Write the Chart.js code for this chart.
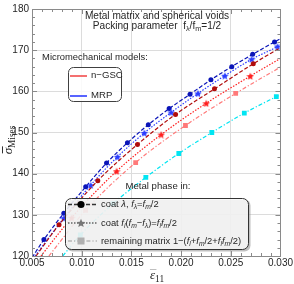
<!DOCTYPE html>
<html>
<head>
<meta charset="UTF-8">
<title>Metal matrix and spherical voids</title>
<script src="https://cdn.jsdelivr.net/npm/chart.js"></script>
<style>
  body { margin: 0; padding: 0; background: #fff; }
  #wrap { width: 294px; height: 284px; }
</style>
</head>
<body>
<div id="wrap"><canvas id="chart" width="294" height="284"></canvas></div>
<script>
// values; first and last entry of each curve are its ends (no marker there)
const xTicks = [0.005, 0.010, 0.015, 0.020, 0.025, 0.030];
const yTicks = [120, 130, 140, 150, 160, 170, 180];

// MRP, metal in coat lambda (circles)
const mrpCoatStrain = [0.0050, 0.0062, 0.0082, 0.0104, 0.0125, 0.0146, 0.0167, 0.0188, 0.0209, 0.0230, 0.0251, 0.0272, 0.0294, 0.0300];
const mrpCoatStress = [119.6, 124.0, 130.4, 136.8, 142.6, 147.5, 151.9, 155.8, 159.3, 162.8, 166.0, 169.0, 172.0, 172.8];
// MRP, metal in coat f_l(f_m - f_lambda) (stars)
const mrpShellStrain = [0.0053, 0.0082, 0.0109, 0.0136, 0.0163, 0.0190, 0.0217, 0.0244, 0.0271, 0.0297, 0.0300];
const mrpShellStress = [120.0, 129.2, 137.2, 144.1, 149.9, 154.9, 159.5, 163.8, 167.8, 170.9, 171.4];
// MRP, metal in remaining matrix (squares)
const mrpRestStrain = [0.0081, 0.00986, 0.01315, 0.01645, 0.01977, 0.02309, 0.02636, 0.02958, 0.0300];
const mrpRestStress = [120.0, 125.1, 132.7, 139.1, 144.9, 150.0, 154.7, 158.7, 159.2];

// n-GSC, metal in coat lambda (circles)
const gscCoatStrain = [0.0054, 0.00772, 0.01162, 0.01561, 0.01944, 0.02336, 0.02726, 0.0300];
const gscCoatStress = [120.0, 127.6, 138.3, 147.1, 154.4, 160.6, 166.7, 170.6];
// n-GSC, metal in coat f_l(f_m - f_lambda) (stars)
const gscShellStrain = [0.0059, 0.00899, 0.01351, 0.0180, 0.02253, 0.02696, 0.0300];
const gscShellStress = [120.0, 129.3, 140.6, 149.5, 157.1, 163.7, 168.0];
// n-GSC, metal in remaining matrix (squares)
const gscRestStrain = [0.0067, 0.01039, 0.01543, 0.02044, 0.02549, 0.0300];
const gscRestStress = [120.0, 131.1, 142.7, 151.7, 159.5, 165.9];

function pts(xs, ys) {
    return xs.map((x, i) => ({ x: x, y: ys[i] }));
}

// filled five point star used as a point style
function starImage(color, size) {
    const c = document.createElement('canvas');
    c.width = size; c.height = size;
    const g = c.getContext('2d');
    drawStar(g, size / 2, size / 2 + 0.4, size / 2, color);
    return c;
}
function drawStar(g, cx, cy, r, color) {
    g.beginPath();
    for (let k = 0; k < 10; k++) {
        const rr = k % 2 === 0 ? r : r * 0.45;
        const a = -Math.PI / 2 + k * Math.PI / 5;
        g.lineTo(cx + rr * Math.cos(a), cy + rr * Math.sin(a));
    }
    g.closePath();
    g.fillStyle = color;
    g.fill();
}

const DASH = [4, 2];
const DOT = [1.5, 1.5];
const DASHDOT = [4, 2, 1.2, 2];

function curve(xs, ys, color, dash, style, radius) {
    const n = xs.length;
    return {
        data: pts(xs, ys),
        borderColor: color,
        backgroundColor: color,
        borderWidth: 1.2,
        borderDash: dash,
        pointStyle: style,
        pointRadius: ctx => (ctx.dataIndex === 0 || ctx.dataIndex === n - 1) ? 0 : radius,
        pointBorderWidth: 0,
        pointHoverRadius: 0,
        cubicInterpolationMode: 'monotone',
        fill: false
    };
}

const SANS = '"Liberation Sans", Arial, sans-serif';
const SERIF = '"Liberation Serif", "Times New Roman", serif';

// text made of parts: [text, flags] with flags 'i' italic, 's' subscript
function rich(ctx, parts, x, y, size, align, family) {
    family = family || SANS;
    const fontOf = f => (f.includes('i') ? 'italic ' : '') + (f.includes('s') ? size * 0.72 : size) + 'px ' + family;
    let w = 0;
    parts.forEach(p => { ctx.font = fontOf(p[1] || ''); w += ctx.measureText(p[0]).width; });
    let cx = align === 'center' ? x - w / 2 : x;
    ctx.textAlign = 'left';
    ctx.textBaseline = 'middle';
    parts.forEach(p => {
        const f = p[1] || '';
        ctx.font = fontOf(f);
        ctx.fillText(p[0], cx, f.includes('s') ? y + size * 0.28 : y);
        cx += ctx.measureText(p[0]).width;
    });
    return w;
}

function roundBox(ctx, x, y, w, h, r) {
    ctx.beginPath();
    ctx.moveTo(x + r, y);
    ctx.arcTo(x + w, y, x + w, y + h, r);
    ctx.arcTo(x + w, y + h, x, y + h, r);
    ctx.arcTo(x, y + h, x, y, r);
    ctx.arcTo(x, y, x + w, y, r);
    ctx.closePath();
}

const framePlugin = {
    id: 'frame',
    afterDatasetsDraw(chart) {
        const ctx = chart.ctx;
        const a = chart.chartArea;
        const xs = chart.scales.x, ys = chart.scales.y;
        ctx.save();
        // inward ticks on all four sides
        ctx.strokeStyle = '#8a8a8a';
        ctx.lineWidth = 1;
        ctx.beginPath();
        for (let v = 120; v <= 180.001; v += 2) {
            const p = Math.round(ys.getPixelForValue(v)) + 0.5;
            const len = (Math.round(v) % 10 === 0) ? 5 : 3;
            ctx.moveTo(a.left, p); ctx.lineTo(a.left + len, p);
            ctx.moveTo(a.right, p); ctx.lineTo(a.right - len, p);
        }
        for (let i = 0; i <= 25; i++) {
            const v = 0.005 + i * 0.001;
            const p = Math.round(xs.getPixelForValue(v)) + 0.5;
            const len = (i % 5 === 0) ? 5 : 3;
            ctx.moveTo(p, a.bottom); ctx.lineTo(p, a.bottom - len);
            ctx.moveTo(p, a.top); ctx.lineTo(p, a.top + len);
        }
        ctx.stroke();
        ctx.strokeRect(Math.round(a.left) + 0.5, Math.round(a.top) + 0.5,
            Math.round(a.right - a.left), Math.round(a.bottom - a.top));

        ctx.fillStyle = '#262626';
        // titles
        rich(ctx, [['Metal matrix and spherical voids']], 157, 16, 10.1, 'center');
        rich(ctx, [['Packing parameter  f'], ['\u03bb', 's'], ['/f'], ['m', 's'], ['=1/2']], 157, 26.5, 10.1, 'center');
        rich(ctx, [['Micromechanical models:']], 95, 57, 9.4, 'center');
        rich(ctx, [['Metal phase in:']], 158, 186, 9.6, 'center');

        // models legend
        roundBox(ctx, 68.5, 67.5, 53, 34, 5);
        ctx.fillStyle = 'rgba(255,255,255,0.85)';
        ctx.fill();
        ctx.strokeStyle = '#404040';
        ctx.stroke();
        ctx.lineWidth = 1.5;
        ctx.strokeStyle = '#f04040';
        ctx.beginPath(); ctx.moveTo(70, 76); ctx.lineTo(87, 76); ctx.stroke();
        ctx.strokeStyle = '#2030ff';
        ctx.beginPath(); ctx.moveTo(70, 96); ctx.lineTo(87, 96); ctx.stroke();
        ctx.fillStyle = '#262626';
        rich(ctx, [['n\u2212GSC']], 91, 75.5, 9.6, 'left');
        rich(ctx, [['MRP']], 91, 95, 9.6, 'left');

        // metal phase legend
        ctx.fillStyle = 'rgba(150,150,150,0.6)';
        roundBox(ctx, 66.5, 199.5, 184, 52, 6);
        ctx.fill();
        roundBox(ctx, 65.5, 198.5, 183, 51, 6);
        ctx.fillStyle = 'rgba(255,255,255,0.78)';
        ctx.fill();
        ctx.lineWidth = 1;
        ctx.strokeStyle = '#333';
        ctx.stroke();

        const rows = [204.5, 223, 241];
        ctx.lineWidth = 1.4;
        ctx.strokeStyle = '#333';
        ctx.setLineDash(DASH);
        ctx.beginPath(); ctx.moveTo(68, rows[0]); ctx.lineTo(97, rows[0]); ctx.stroke();
        ctx.strokeStyle = '#666';
        ctx.setLineDash(DOT);
        ctx.beginPath(); ctx.moveTo(68, rows[1]); ctx.lineTo(97, rows[1]); ctx.stroke();
        ctx.strokeStyle = '#b8b8b8';
        ctx.setLineDash(DASHDOT);
        ctx.beginPath(); ctx.moveTo(68, rows[2]); ctx.lineTo(97, rows[2]); ctx.stroke();
        ctx.setLineDash([]);
        ctx.fillStyle = '#000';
        ctx.beginPath(); ctx.arc(81, rows[0], 3.6, 0, Math.PI * 2); ctx.fill();
        drawStar(ctx, 81, rows[1] + 0.4, 4.6, '#777');
        ctx.fillStyle = '#b0b0b0';
        ctx.fillRect(77.5, rows[2] - 3.5, 7, 7);

        ctx.fillStyle = '#262626';
        rich(ctx, [['coat '], ['\u03bb', 'i'], [', '], ['f', 'i'], ['\u03bb', 'is'], ['='], ['f', 'i'], ['m', 'is'], ['/2']], 101, rows[0], 9.4, 'left');
        rich(ctx, [['coat '], ['f', 'i'], ['l', 'is'], ['('], ['f', 'i'], ['m', 'is'], ['\u2212'], ['f', 'i'], ['\u03bb', 'is'], [')='], ['f', 'i'], ['l', 'is'], ['f', 'i'], ['m', 'is'], ['/2']], 101, rows[1], 9.4, 'left');
        rich(ctx, [['remaining matrix 1\u2212('], ['f', 'i'], ['l', 'is'], ['+'], ['f', 'i'], ['m', 'is'], ['/2+'], ['f', 'i'], ['l', 'is'], ['f', 'i'], ['m', 'is'], ['/2)']], 101, rows[2], 9.4, 'left');

        // axis titles
        ctx.fillStyle = '#1a1a1a';
        ctx.save();
        ctx.translate(9, 140);
        ctx.rotate(-Math.PI / 2);
        const w = rich(ctx, [['\u03c3', 'i'], ['Mises', 's']], 0, 0, 13, 'center', SERIF);
        ctx.lineWidth = 0.9;
        ctx.strokeStyle = '#1a1a1a';
        ctx.beginPath(); ctx.moveTo(-w / 2 + 1, -6.5); ctx.lineTo(-w / 2 + 8, -6.5); ctx.stroke();
        ctx.restore();
        const w2 = rich(ctx, [['\u03b5', 'i'], ['11', 's']], 157, 276, 13, 'center', SERIF);
        ctx.lineWidth = 0.9;
        ctx.beginPath(); ctx.moveTo(157 - w2 / 2, 269.5); ctx.lineTo(157 - w2 / 2 + 6.5, 269.5); ctx.stroke();
        ctx.restore();
    }
};

const chart = new Chart(document.getElementById('chart'), {
    type: 'line',
    data: {
        datasets: [
            curve(gscRestStrain, gscRestStress, '#ff7a7a', DASHDOT, 'rect', 3.4),
            curve(gscShellStrain, gscShellStress, '#ff1f1f', DOT, starImage('#ff1f1f', 8), 4),
            curve(gscCoatStrain, gscCoatStress, '#b00c0c', DASH, 'circle', 2.5),
            curve(mrpRestStrain, mrpRestStress, '#00e5f2', DASHDOT, 'rect', 3.4),
            curve(mrpShellStrain, mrpShellStress, '#2a3cff', DOT, starImage('#2a3cff', 8), 4),
            curve(mrpCoatStrain, mrpCoatStress, '#0a14b8', DASH, 'circle', 2.5)
        ]
    },
    options: {
        responsive: false,
        animation: false,
        events: [],
        layout: { padding: { left: 0, top: 5, right: 11, bottom: 0 } },
        plugins: { legend: { display: false }, tooltip: { enabled: false } },
        scales: {
            x: {
                type: 'linear',
                min: 0.005,
                max: 0.030,
                afterFit: s => { s.height = 28; },
                afterBuildTicks: s => { s.ticks = xTicks.map(v => ({ value: v })); },
                ticks: {
                    color: '#262626',
                    font: { family: SANS, size: 10 },
                    padding: 1,
                    maxRotation: 0,
                    callback: v => v.toFixed(3)
                },
                grid: { color: '#dcdcdc', drawTicks: false },
                border: { display: false }
            },
            y: {
                min: 120,
                max: 180,
                afterFit: s => { s.width = 32; },
                afterBuildTicks: s => { s.ticks = yTicks.map(v => ({ value: v })); },
                ticks: {
                    color: '#262626',
                    font: { family: SANS, size: 10 },
                    padding: 3
                },
                grid: { color: '#dcdcdc', drawTicks: false },
                border: { display: false }
            }
        }
    },
    plugins: [framePlugin]
});
</script>
</body>
</html>
